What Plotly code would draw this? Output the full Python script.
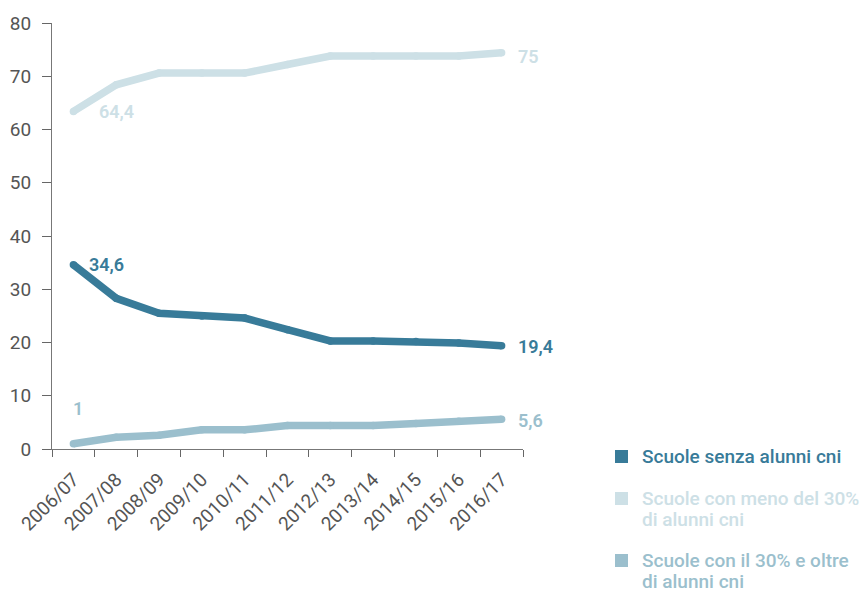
import plotly.graph_objects as go

years = ["2006/07", "2007/08", "2008/09", "2009/10", "2010/11", "2011/12",
         "2012/13", "2013/14", "2014/15", "2015/16", "2016/17"]
senza = [34.6, 28.3, 25.5, 25.0, 24.6, 22.4, 20.3, 20.3, 20.2, 19.9, 19.4]
meno30 = [63.4, 68.4, 70.6, 70.6, 70.6, 72.2, 73.8, 73.8, 73.8, 73.8, 74.4]
oltre30 = [1.0, 2.2, 2.6, 3.6, 3.6, 4.4, 4.4, 4.4, 4.8, 5.2, 5.6]

legend_lines = [["Scuole senza alunni cni"],
                ["Scuole con meno del 30%", "di alunni cni"],
                ["Scuole con il 30% e oltre", "di alunni cni"]]
colors = ["#387b99", "#cde0e6", "#9bbfcd"]
start_labels = ["34,6", "64,4", "1"]
end_labels = ["19,4", "75", "5,6"]

series = [senza, meno30, oltre30]
FONT = "Roboto, 'Noto Sans', sans-serif"

W, H = 868, 590
ML, MR, MT, MB = 44, 353, 15, 149
PW, PH = W - ML - MR, H - MT - MB


def px_x(px):  # figure pixel -> paper x
    return (px - ML) / PW


def px_y(py):  # figure pixel -> paper y
    return (H - MB - py) / PH


fig = go.Figure()
for vals, col in zip(series, colors):
    fig.add_trace(go.Scatter(
        x=years, y=vals, mode="lines+markers",
        line=dict(color=col, width=7.5),
        marker=dict(color=col, size=7.5),
        showlegend=False, hoverinfo="skip"))

# start labels
start_offsets = [(14, 0, "left"), (24, 0, "left"), (5, 35, "center")]
for vals, col, lab, (xs, ys, xa) in zip(series, colors, start_labels, start_offsets):
    fig.add_annotation(x=years[0], y=vals[0], text=lab, showarrow=False,
                       xanchor=xa, yanchor="middle", xshift=xs, yshift=ys,
                       font=dict(family=FONT, size=18, color=col, weight=600))
# end labels
end_offsets = [(14, -1), (14, -4), (14, -1)]
for vals, col, lab, (xs, ys) in zip(series, colors, end_labels, end_offsets):
    fig.add_annotation(x=years[-1], y=vals[-1], text=lab, showarrow=False,
                       xanchor="left", yanchor="middle", xshift=xs, yshift=ys,
                       font=dict(family=FONT, size=18, color=col, weight=600))

# legend (squares + text), positions in figure pixels
leg_top = [441, 483, 545]      # top of first text line of each item
line_gap = 21
for lines, col, top in zip(legend_lines, colors, leg_top):
    fig.add_shape(type="rect", xref="paper", yref="paper",
                  x0=px_x(607), x1=px_x(620), y0=px_y(top + 1), y1=px_y(top + 14),
                  fillcolor=col, line=dict(width=0))
    for j, ln in enumerate(lines):
        fig.add_annotation(xref="paper", yref="paper",
                           x=px_x(632), y=px_y(top + 7.5 + j * line_gap),
                           text=ln, showarrow=False, xanchor="left", yanchor="middle",
                           font=dict(family=FONT, size=19, color=col, weight=500))

fig.update_layout(
    width=W, height=H,
    margin=dict(l=ML, r=MR, t=MT, b=MB, autoexpand=False),
    paper_bgcolor="white", plot_bgcolor="white",
    font=dict(family=FONT, size=17, color="#444444"),
    showlegend=False,
    xaxis=dict(type="category", tickangle=-45, tickson="boundaries",
               ticks="outside", ticklen=7, tickcolor="#666666",
               showline=True, linecolor="#777777", linewidth=1,
               showgrid=False, zeroline=False, automargin=False,
               ticklabelstandoff=11,
               tickfont=dict(family=FONT, size=19, color="#555555"),
               range=[-0.5, 10.5]),
    yaxis=dict(range=[0, 80], dtick=10, ticks="outside", ticklen=9,
               tickcolor="#666666", showline=True, linecolor="#777777",
               linewidth=1, showgrid=False, zeroline=False, automargin=False,
               ticklabelstandoff=7,
               tickfont=dict(family=FONT, size=19, color="#555555")),
)

fig.write_html("out.html")
